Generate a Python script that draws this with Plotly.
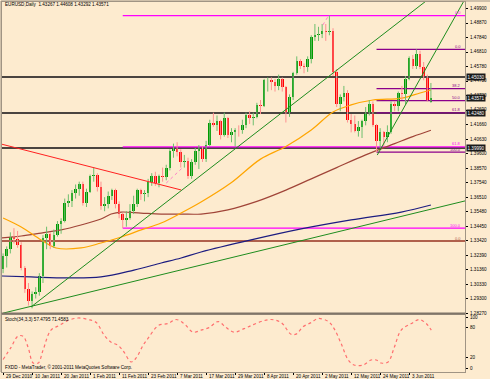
import plotly.graph_objects as go

# ---------------- data ----------------
date_ticks = [0, 8, 16, 24, 32, 40, 48, 56, 64, 72, 80, 88, 96, 104, 112]
date_labels = ["29 Dec 2010", "10 Jan 2011", "20 Jan 2011", "1 Feb 2011", "11 Feb 2011",
               "23 Feb 2011", "7 Mar 2011", "17 Mar 2011", "29 Mar 2011", "8 Apr 2011",
               "20 Apr 2011", "2 May 2011", "12 May 2011", "24 May 2011", "3 Jun 2011"]

opens = [1.3140, 1.3235, 1.3280, 1.3370, 1.3350, 1.3310, 1.3150, 1.2995, 1.2910, 1.2960,
         1.2975, 1.3090, 1.3360, 1.3385, 1.3300, 1.3380, 1.3460, 1.3480, 1.3610, 1.3620,
         1.3680, 1.3710, 1.3740, 1.3610, 1.3690, 1.3800, 1.3810, 1.3720, 1.3590, 1.3600,
         1.3660, 1.3700, 1.3600, 1.3530, 1.3490, 1.3500, 1.3550, 1.3600, 1.3700, 1.3670,
         1.3680, 1.3760, 1.3800, 1.3750, 1.3800, 1.3790, 1.3860, 1.3980, 1.3990, 1.3970,
         1.3900, 1.3910, 1.3800, 1.3900, 1.3980, 1.3990, 1.3920, 1.4020, 1.4180, 1.4160,
         1.4190, 1.4090, 1.4210, 1.4090, 1.4110, 1.4130, 1.4125, 1.4165, 1.4230, 1.4215,
         1.4220, 1.4305, 1.4300, 1.4480, 1.4485, 1.4470, 1.4440, 1.4490, 1.4430, 1.4240,
         1.4360, 1.4530, 1.4620, 1.4580, 1.4575, 1.4630, 1.4790, 1.4800, 1.4807, 1.4830,
         1.4825, 1.4830, 1.4540, 1.4310, 1.4360, 1.4390, 1.4200, 1.4170, 1.4120, 1.4150,
         1.4190, 1.4240, 1.4310, 1.4160, 1.4050, 1.4110, 1.4080, 1.4110, 1.4310, 1.4300,
         1.4390, 1.4380, 1.4490, 1.4630, 1.4580, 1.4670, 1.4575, 1.4505, 1.4327]
highs = [1.3250, 1.3300, 1.3400, 1.3430, 1.3410, 1.3330, 1.3160, 1.3040, 1.2980, 1.3010,
         1.3110, 1.3380, 1.3440, 1.3400, 1.3420, 1.3480, 1.3500, 1.3640, 1.3670, 1.3700,
         1.3740, 1.3760, 1.3760, 1.3710, 1.3810, 1.3860, 1.3820, 1.3760, 1.3650, 1.3690,
         1.3710, 1.3710, 1.3620, 1.3540, 1.3550, 1.3600, 1.3660, 1.3710, 1.3710, 1.3700,
         1.3780, 1.3820, 1.3830, 1.3810, 1.3860, 1.3880, 1.3990, 1.4030, 1.4040, 1.3990,
         1.3950, 1.3930, 1.3920, 1.4000, 1.4020, 1.4010, 1.4050, 1.4200, 1.4250, 1.4230,
         1.4200, 1.4250, 1.4220, 1.4140, 1.4140, 1.4160, 1.4200, 1.4250, 1.4260, 1.4250,
         1.4320, 1.4340, 1.4490, 1.4500, 1.4500, 1.4490, 1.4520, 1.4500, 1.4440, 1.4380,
         1.4540, 1.4650, 1.4630, 1.4600, 1.4650, 1.4800, 1.4880, 1.4860, 1.4880, 1.4880,
         1.4940, 1.4850, 1.4560, 1.4380, 1.4440, 1.4410, 1.4240, 1.4230, 1.4190, 1.4200,
         1.4290, 1.4340, 1.4330, 1.4170, 1.4140, 1.4120, 1.4160, 1.4330, 1.4330, 1.4400,
         1.4440, 1.4510, 1.4650, 1.4660, 1.4700, 1.4690, 1.4610, 1.4520, 1.4461]
lows = [1.3110, 1.3150, 1.3250, 1.3320, 1.3290, 1.3130, 1.2970, 1.2880, 1.2860, 1.2930,
        1.2950, 1.3040, 1.3280, 1.3280, 1.3290, 1.3370, 1.3390, 1.3470, 1.3580, 1.3580,
        1.3640, 1.3660, 1.3590, 1.3580, 1.3680, 1.3760, 1.3690, 1.3560, 1.3550, 1.3570,
        1.3630, 1.3570, 1.3500, 1.3430, 1.3440, 1.3490, 1.3530, 1.3580, 1.3630, 1.3620,
        1.3650, 1.3730, 1.3730, 1.3720, 1.3760, 1.3770, 1.3840, 1.3930, 1.3940, 1.3860,
        1.3860, 1.3780, 1.3780, 1.3880, 1.3850, 1.3900, 1.3900, 1.4010, 1.4150, 1.4120,
        1.4060, 1.4080, 1.4070, 1.4040, 1.4010, 1.4080, 1.4100, 1.4140, 1.4170, 1.4160,
        1.4210, 1.4240, 1.4290, 1.4400, 1.4410, 1.4400, 1.4410, 1.4400, 1.4180, 1.4220,
        1.4340, 1.4520, 1.4560, 1.4530, 1.4540, 1.4600, 1.4760, 1.4760, 1.4780, 1.4760,
        1.4800, 1.4510, 1.4290, 1.4260, 1.4330, 1.4180, 1.4110, 1.4110, 1.4080, 1.4070,
        1.4160, 1.4230, 1.4150, 1.3970, 1.4000, 1.4010, 1.4040, 1.4100, 1.4260, 1.4260,
        1.4340, 1.4310, 1.4480, 1.4560, 1.4560, 1.4560, 1.4480, 1.4330, 1.4320]
closes = [1.3235, 1.3280, 1.3370, 1.3350, 1.3310, 1.3150, 1.2995, 1.2910, 1.2960, 1.2975,
          1.3090, 1.3360, 1.3385, 1.3300, 1.3380, 1.3460, 1.3480, 1.3610, 1.3620, 1.3680,
          1.3710, 1.3740, 1.3610, 1.3690, 1.3800, 1.3810, 1.3720, 1.3590, 1.3600, 1.3660,
          1.3700, 1.3600, 1.3530, 1.3490, 1.3500, 1.3550, 1.3600, 1.3700, 1.3670, 1.3680,
          1.3760, 1.3800, 1.3750, 1.3800, 1.3790, 1.3860, 1.3980, 1.3990, 1.3970, 1.3900,
          1.3910, 1.3800, 1.3900, 1.3980, 1.3990, 1.3920, 1.4020, 1.4180, 1.4160, 1.4190,
          1.4090, 1.4210, 1.4090, 1.4110, 1.4130, 1.4125, 1.4165, 1.4230, 1.4215, 1.4220,
          1.4305, 1.4300, 1.4480, 1.4485, 1.4470, 1.4440, 1.4490, 1.4430, 1.4240, 1.4360,
          1.4530, 1.4620, 1.4580, 1.4575, 1.4630, 1.4790, 1.4800, 1.4807, 1.4830, 1.4825,
          1.4830, 1.4540, 1.4310, 1.4360, 1.4390, 1.4200, 1.4170, 1.4120, 1.4150, 1.4190,
          1.4240, 1.4310, 1.4160, 1.4050, 1.4110, 1.4080, 1.4110, 1.4310, 1.4300, 1.4390,
          1.4380, 1.4490, 1.4640, 1.4580, 1.4670, 1.4575, 1.4505, 1.4340, 1.4357]

# moving averages (bar index, price)
ma_orange_x = [0, 5, 10.5, 14.6, 21.5, 27, 32.6, 38.1, 43.6, 49.1, 54.6, 62.8, 71, 78, 85, 91, 96, 102, 110, 115, 118]
ma_orange_y = [1.3502, 1.3438, 1.3346, 1.3289, 1.3289, 1.3324, 1.3367, 1.3417, 1.3466, 1.3537, 1.3615,
               1.3750, 1.3920, 1.4010, 1.4127, 1.4255, 1.4305, 1.4340, 1.4354, 1.4390, 1.4411]
ma_brown_x = [-0.5, 5, 10.5, 16, 21.5, 27, 29.8, 32.6, 38, 43.6, 49.1, 54.6, 62, 70, 78, 85, 92, 100, 108, 113, 118]
ma_brown_y = [1.3360, 1.3374, 1.3395, 1.3417, 1.3452, 1.3495, 1.3530, 1.3544, 1.3537, 1.3530, 1.3530,
              1.3530, 1.3560, 1.3620, 1.3700, 1.3780, 1.3860, 1.3950, 1.4030, 1.4080, 1.4125]
ma_blue_x = [-0.5, 7.7, 17.9, 27, 36.1, 43.6, 49.1, 54.6, 68.4, 82.2, 96, 109.8, 118]
ma_blue_y = [1.3090, 1.3083, 1.3076, 1.3083, 1.3132, 1.3182, 1.3218, 1.3260, 1.3346, 1.3424, 1.3488, 1.3544, 1.3594]

# Stochastic (34,3,3) main line
stoch_x = [0, 2.2, 4.1, 5.5, 6.9, 8.3, 9.7, 11.0, 13.2, 15.4, 17.9, 20.7, 23.4, 25.7, 27.9, 29.8, 31.7,
           33.4, 35.3, 36.7, 38.6, 40.0, 42.8, 45.5, 47.7, 49.9, 52.4, 54.6, 56.8, 59.3, 61.5, 63.7,
           66.5, 68.4, 71.2, 73.9, 76.7, 79.4, 80.8, 82.8, 85.0, 86.9, 89.7, 91.3, 93.2, 95.2, 96.8,
           99.3, 101.5, 102.9, 104.3, 106.2, 107.9, 109.8, 112.6, 114.8, 116.7, 118.1]
stoch_y = [17, 41, 63, 63, 41, 10, 10, 35, 75, 84, 94, 99, 96, 90, 65, 51, 45,
           31, 12, 20, 45, 59, 84, 88, 96, 88, 71, 75, 80, 92, 80, 71,
           78, 84, 92, 96, 90, 67, 67, 82, 90, 98, 92, 78, 49, 16, 6,
           6, 16, 16, 10, 12, 41, 75, 88, 96, 88, 75]

# trend lines (bar, price) endpoints
tl_green_steep = ([7.7, 117.0], [1.2870, 1.5050])
tl_green_steep2 = ([103.2, 128.0], [1.3949, 1.5085])
tl_green_flat = ([0.0, 127.7], [1.2826, 1.3625])
tl_red = ([-0.5, 49.1], [1.4027, 1.3701])
tl_pink1 = ([45.0, 49.7], [1.3750, 1.3864])
tl_pink2 = ([88.2, 89.6], [1.4873, 1.4932])

# horizontal levels
dark_levels = [1.4503, 1.4248, 1.3999]
dark_boxes = ["1.45030", "1.42480", "1.39990"]
brown_level = 1.3338
fib1_start, fib1_levels, fib1_names = 33, [1.4940, 1.4007, 1.3430], ["0.0", "61.8", "100.0"]
fib2_start, fib2_levels, fib2_names = 103, [1.4700, 1.4421, 1.4335, 1.4249, 1.3970], ["0.0", "38.2", "50.0", "61.8", "100.0"]
last_price = 1.43571

price_ticks = [1.2827 + 0.0103 * k for k in range(22)]
stoch_ticks = [0, 20, 80, 100]

title_text = "EURUSD,Daily  1.43267 1.44608 1.43292 1.43571"
stoch_text = "Stoch(34,3,3) 57.4795 71.4583"
footer_text = "FXDD - MetaTrader, \u00a9 2001-2011 MetaQuotes Software Corp."

# ---------------- styling ----------------
W, H = 490, 379
BG = "#FDEBCF"
FRAME = "#A09484"
FONT = "Liberation Sans, Arial, sans-serif"
FS = 4.6
XR = [-0.3, 127.4]
YR = [1.2827, 1.50362]
SR = [-7.8, 105.9]

def px(x):
    return x / W

def py(y):
    return 1 - y / H

fig = go.Figure()

# horizontal level lines (behind candles)
for lv in dark_levels:
    fig.add_trace(go.Scatter(x=[XR[0], 130], y=[lv, lv], mode="lines",
                             line=dict(color="#4A4440", width=2), hoverinfo="skip"))
fig.add_trace(go.Scatter(x=[XR[0], 130], y=[brown_level, brown_level], mode="lines",
                         line=dict(color="#B0604C", width=2), hoverinfo="skip"))
for lv in fib1_levels:
    fig.add_trace(go.Scatter(x=[fib1_start, 130], y=[lv, lv], mode="lines",
                             line=dict(color="#FF00FF", width=1.3), hoverinfo="skip"))
for lv in fib2_levels:
    fig.add_trace(go.Scatter(x=[fib2_start, 130], y=[lv, lv], mode="lines",
                             line=dict(color="#8B008B", width=1.2), hoverinfo="skip"))

# moving averages
fig.add_trace(go.Scatter(x=ma_blue_x, y=ma_blue_y, mode="lines", line=dict(color="#1C1C80", width=1.2, shape="spline")))
fig.add_trace(go.Scatter(x=ma_brown_x, y=ma_brown_y, mode="lines", line=dict(color="#A04438", width=1.2, shape="spline")))
fig.add_trace(go.Scatter(x=ma_orange_x, y=ma_orange_y, mode="lines", line=dict(color="#FFA500", width=1.2, shape="spline")))

# candles: wicks
n = len(opens)
for up in (True, False):
    wx, wy = [], []
    for i in range(n):
        if (closes[i] >= opens[i]) == up:
            wx += [i, i, None]
            wy += [lows[i], highs[i], None]
    fig.add_trace(go.Scatter(x=wx, y=wy, mode="lines",
                             line=dict(color="#6DBF6D" if up else "#FF9090", width=1), hoverinfo="skip"))

# candles: bodies
bases = [min(o, c) for o, c in zip(opens, closes)]
heights = [max(abs(c - o), 0.00035) for o, c in zip(opens, closes)]
colors = ["#009A00" if c >= o else "#FF0000" for o, c in zip(opens, closes)]
fig.add_trace(go.Bar(x=list(range(n)), y=heights, base=bases, width=0.7,
                     marker=dict(color=colors, line=dict(width=0)), hoverinfo="skip"))

# trend lines
for (tx, ty), col, dash in [(tl_green_steep, "#1E8C1E", "solid"), (tl_green_steep2, "#1E8C1E", "solid"),
                            (tl_green_flat, "#1E8C1E", "solid"), (tl_red, "#FF2020", "solid"),
                            (tl_pink1, "#FF80C8", "dot"), (tl_pink2, "#FF80C8", "dot")]:
    fig.add_trace(go.Scatter(x=tx, y=ty, mode="lines", line=dict(color=col, width=1, dash=dash), hoverinfo="skip"))

# stochastic
fig.add_trace(go.Scatter(x=stoch_x, y=stoch_y, xaxis="x2", yaxis="y2", mode="lines",
                         line=dict(color="#FF6E6E", width=1.2, dash="dot", shape="spline"), hoverinfo="skip"))

annotations = []
def txt(text, x, y, xref="paper", yref="paper", xanchor="left", color="#000", size=FS, **kw):
    annotations.append(dict(text=text, x=x, y=y, xref=xref, yref=yref, xanchor=xanchor,
                            yanchor="middle", showarrow=False,
                            font=dict(size=size, color=color, family=FONT), **kw))

txt(title_text, px(3), py(5))
txt(stoch_text, px(3), py(319.5))
txt(footer_text, px(3), py(366.5))
for b, lab in zip(date_ticks, date_labels):
    txt(lab, b, py(376), xref="x2", xshift=1)
# price scale labels
for v in price_ticks:
    txt(f"{v:.5f}", px(468), v, yref="y")
for v in stoch_ticks:
    txt(str(v), px(468), v, yref="y2")
# fib labels
for lv, nm in zip(fib1_levels, fib1_names):
    txt(nm, px(463), lv, yref="y", xanchor="right", color="#FF00FF", size=4, yshift=3)
for lv, nm in zip(fib2_levels, fib2_names):
    txt(nm, px(463), lv, yref="y", xanchor="right", color="#8B008B", size=4, yshift=3)
txt("0.0", px(463), brown_level, yref="y", xanchor="right", color="#B0604C", size=4, yshift=3)
# price boxes on the scale
for lv, t in list(zip(dark_levels, dark_boxes)) + [(last_price, "1.43571")]:
    txt(t, px(466), lv, yref="y", color="#FFFFFF", bgcolor="#1A1A1A", borderpad=0.5)

fig.update_layout(
    width=W, height=H, margin=dict(l=0, r=0, t=0, b=0),
    paper_bgcolor=BG, plot_bgcolor=BG, showlegend=False, bargap=0,
    annotations=annotations,
    xaxis=dict(domain=[px(2), px(465)], range=XR, showgrid=False, zeroline=False,
               showticklabels=False, ticks="", showline=True, mirror=True, linecolor=FRAME, linewidth=1),
    yaxis=dict(domain=[py(313), py(2)], range=YR, showgrid=False, zeroline=False, side="right",
               tickvals=price_ticks, showticklabels=False,
               ticks="outside", ticklen=2, tickcolor="#000", tickwidth=1,
               showline=True, mirror=True, linecolor=FRAME, linewidth=1),
    xaxis2=dict(domain=[px(2), px(465)], range=XR, anchor="y2", showgrid=False, zeroline=False,
                showticklabels=False, tickvals=date_ticks, ticks="outside", ticklen=2, tickcolor="#000",
                showline=True, mirror=True, linecolor=FRAME, linewidth=1),
    yaxis2=dict(domain=[py(372), py(314.5)], range=SR, anchor="x2", showgrid=False, zeroline=False, side="right",
                tickvals=stoch_ticks, showticklabels=False,
                ticks="outside", ticklen=2, tickcolor="#000",
                showline=True, mirror=True, linecolor=FRAME, linewidth=1),
    shapes=[
        dict(type="line", xref="paper", yref="paper", x0=px(1), x1=px(465), y0=py(313.5), y1=py(313.5),
             line=dict(color="#7F7468", width=2)),
        dict(type="line", xref="paper", yref="paper", x0=px(1), x1=px(1), y0=py(1), y1=py(372),
             line=dict(color=FRAME, width=1)),
        dict(type="line", xref="paper", yref="paper", x0=px(1), x1=px(490), y0=py(1), y1=py(1),
             line=dict(color=FRAME, width=1)),
    ],
)

fig.write_html("out.html", config={"displayModeBar": False, "staticPlot": True},
               post_script="document.body.style.margin='0px';")
